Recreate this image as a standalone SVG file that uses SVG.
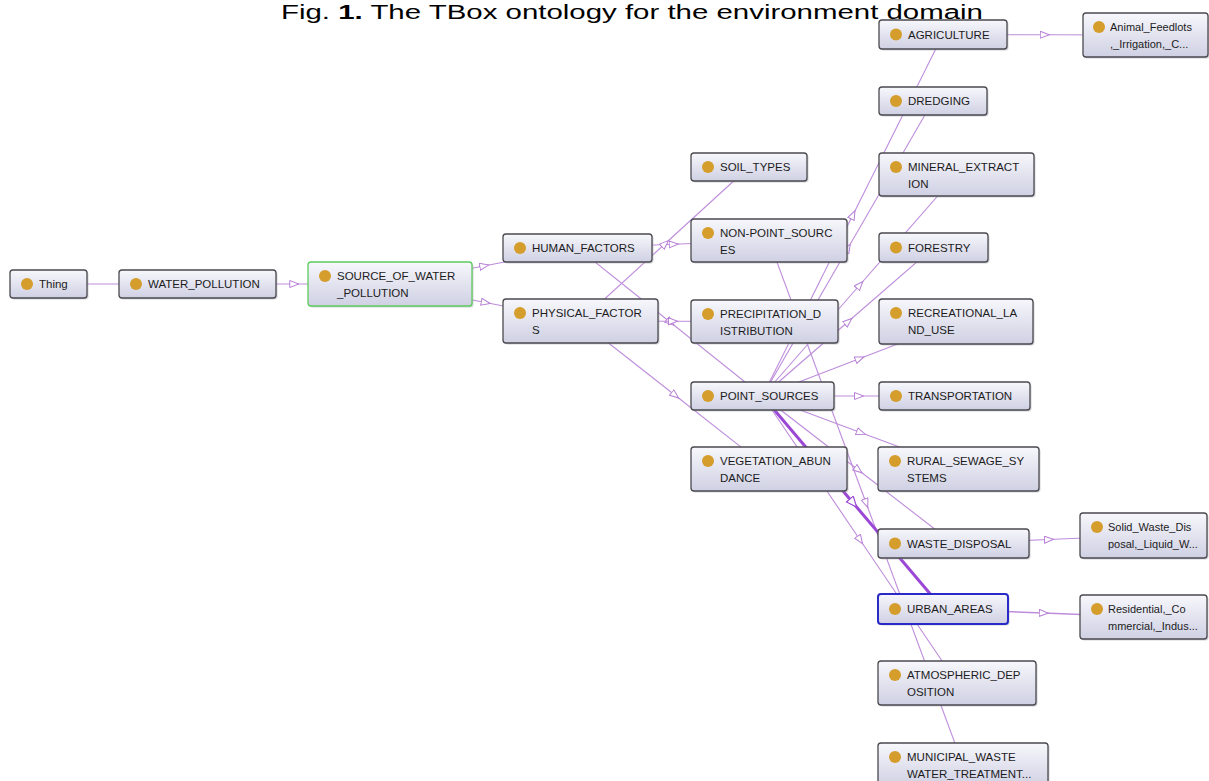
<svg xmlns="http://www.w3.org/2000/svg" width="1209" height="781" viewBox="0 0 1209 781">
<defs>
<linearGradient id="g" x1="0" y1="0" x2="0" y2="1">
<stop offset="0" stop-color="#f7f7fc"/>
<stop offset="1" stop-color="#cfd0e3"/>
</linearGradient>
<marker id="tri" markerUnits="userSpaceOnUse" markerWidth="12" markerHeight="10" refX="4.5" refY="4" orient="auto">
<path d="M0.5,0.5 L9.5,4 L0.5,7.5 Z" fill="#ffffff" stroke="#b77fd6" stroke-width="1"/>
</marker>
<marker id="triB" markerUnits="userSpaceOnUse" markerWidth="14" markerHeight="12" refX="5" refY="5" orient="auto">
<path d="M0.5,0.5 L11,5 L0.5,9.5 Z" fill="#ffffff" stroke="#9c48d6" stroke-width="1.2"/>
</marker>
</defs>
<style>
.e{fill:none;stroke:#be8ddc;stroke-width:1.1;marker-mid:url(#tri)}
.eb{fill:none;stroke:#9c48d6;stroke-width:3;marker-mid:url(#triB)}
.sh{fill:#9a9aa8;opacity:0.45}
.box{fill:url(#g);stroke:#4a4a4f;stroke-width:1.3}
.dot{fill:#d49d2c}
.t{font-family:"Liberation Sans",Arial,sans-serif;font-size:11.5px;fill:#1c1c1c}
.ts{font-family:"Liberation Sans",Arial,sans-serif;font-size:11px;fill:#1c1c1c}
</style>
<rect width="1209" height="781" fill="#ffffff"/>
<text x="281" y="19" font-family="'Liberation Sans',Arial,sans-serif" font-size="20" fill="#000" textLength="702" lengthAdjust="spacingAndGlyphs">Fig. <tspan font-weight="bold">1.</tspan> The TBox ontology for the environment domain</text>
<g id="connectors">
<polyline class="e" points="48.5,284 123,284 197.5,284"/>
<polyline class="e" points="197.5,284 293.75,284 390,284"/>
<polyline class="e" points="390,284 483.75,266 577.5,248"/>
<polyline class="e" points="390,284 485.25,302.5 580.5,321"/>
<polyline class="e" points="577.5,248 673.25,244.25 769,240.5"/>
<polyline class="e" points="577.5,248 670,322 762.5,396"/>
<polyline class="e" points="580.5,321 664.75,244 749,167"/>
<polyline class="e" points="580.5,321 672.5,321.25 764.5,321.5"/>
<polyline class="e" points="580.5,321 674.75,395 769,469"/>
<polyline class="e" points="762.5,396 852.75,215.25 943,34.5"/>
<polyline class="e" points="762.5,396 847.75,248.5 933,101"/>
<polyline class="e" points="762.5,396 859.5,285.25 956.5,174.5"/>
<polyline class="e" points="762.5,396 848,321.75 933.5,247.5"/>
<polyline class="e" points="762.5,396 859.25,358.75 956,321.5"/>
<polyline class="e" points="762.5,396 858.5,396 954.5,396"/>
<polyline class="e" points="762.5,396 860.5,432.5 958.5,469"/>
<polyline class="e" points="762.5,396 858,469.75 953.5,543.5"/>
<polyline class="e" points="762.5,396 859.75,539.5 957,683"/>
<polyline class="e" points="769,240.5 866,502.75 963,765"/>
<polyline class="eb" points="762.5,396 852.75,502.5 943,609"/>
<polyline class="e" points="943,34.5 1044.25,34.75 1145.5,35"/>
<polyline class="e" points="953.5,543.5 1048.5,539.5 1143.5,535.5"/>
<polyline class="e" points="943,609 1043.25,613 1143.5,617" style="stroke-width:1.5"/>
</g>
<g id="n-thing"><rect class="sh" x="11.5" y="271.5" width="77" height="28" rx="3"/><rect class="box" x="10" y="270" width="77" height="28" rx="3"/><circle class="dot" cx="27" cy="284" r="6"/><text class="t" x="39" y="288">Thing</text></g>
<g id="n-water-pollution"><rect class="sh" x="120.5" y="271.5" width="157" height="28" rx="3"/><rect class="box" x="119" y="270" width="157" height="28" rx="3"/><circle class="dot" cx="136" cy="284" r="6"/><text class="t" x="148" y="288">WATER_POLLUTION</text></g>
<g id="n-source"><rect class="sh" x="309.5" y="263.5" width="164" height="44" rx="3"/><rect class="box" x="308" y="262" width="164" height="44" rx="3" style="stroke:#5ccc5c"/><circle class="dot" cx="325" cy="276" r="6"/><text class="t" x="337" y="280">SOURCE_OF_WATER</text><text class="t" x="337" y="297">_POLLUTION</text></g>
<g id="n-human"><rect class="sh" x="504.5" y="235.5" width="149" height="28" rx="3"/><rect class="box" x="503" y="234" width="149" height="28" rx="3"/><circle class="dot" cx="520" cy="248" r="6"/><text class="t" x="532" y="252">HUMAN_FACTORS</text></g>
<g id="n-physical"><rect class="sh" x="504.5" y="300.5" width="155" height="44" rx="3"/><rect class="box" x="503" y="299" width="155" height="44" rx="3"/><circle class="dot" cx="520" cy="313" r="6"/><text class="t" x="532" y="317">PHYSICAL_FACTOR</text><text class="t" x="532" y="334">S</text></g>
<g id="n-soil"><rect class="sh" x="692.5" y="154.5" width="116" height="28" rx="3"/><rect class="box" x="691" y="153" width="116" height="28" rx="3"/><circle class="dot" cx="708" cy="167" r="6"/><text class="t" x="720" y="171">SOIL_TYPES</text></g>
<g id="n-nonpoint"><rect class="sh" x="692.5" y="220.5" width="156" height="43" rx="3"/><rect class="box" x="691" y="219" width="156" height="43" rx="3"/><circle class="dot" cx="708" cy="233" r="6"/><text class="t" x="720" y="237">NON-POINT_SOURC</text><text class="t" x="720" y="254">ES</text></g>
<g id="n-precip"><rect class="sh" x="692.5" y="301.5" width="147" height="43" rx="3"/><rect class="box" x="691" y="300" width="147" height="43" rx="3"/><circle class="dot" cx="708" cy="314" r="6"/><text class="t" x="720" y="318">PRECIPITATION_D</text><text class="t" x="720" y="335">ISTRIBUTION</text></g>
<g id="n-point"><rect class="sh" x="692.5" y="383.5" width="143" height="28" rx="3"/><rect class="box" x="691" y="382" width="143" height="28" rx="3"/><circle class="dot" cx="708" cy="396" r="6"/><text class="t" x="720" y="400">POINT_SOURCES</text></g>
<g id="n-veg"><rect class="sh" x="692.5" y="448.5" width="156" height="44" rx="3"/><rect class="box" x="691" y="447" width="156" height="44" rx="3"/><circle class="dot" cx="708" cy="461" r="6"/><text class="t" x="720" y="465">VEGETATION_ABUN</text><text class="t" x="720" y="482">DANCE</text></g>
<g id="n-agri"><rect class="sh" x="880.5" y="21.5" width="128" height="29" rx="3"/><rect class="box" x="879" y="20" width="128" height="29" rx="3"/><circle class="dot" cx="896" cy="34.5" r="6"/><text class="t" x="908" y="38.5">AGRICULTURE</text></g>
<g id="n-animal"><rect class="sh" x="1084.5" y="14.5" width="125" height="44" rx="3"/><rect class="box" x="1083" y="13" width="125" height="44" rx="3"/><circle class="dot" cx="1099" cy="27" r="6"/><text class="ts" x="1110" y="31">Animal_Feedlots</text><text class="ts" x="1110" y="48">,_Irrigation,_C...</text></g>
<g id="n-dredging"><rect class="sh" x="880.5" y="88.5" width="108" height="28" rx="3"/><rect class="box" x="879" y="87" width="108" height="28" rx="3"/><circle class="dot" cx="896" cy="101" r="6"/><text class="t" x="908" y="105">DREDGING</text></g>
<g id="n-mineral"><rect class="sh" x="880.5" y="154.5" width="155" height="43" rx="3"/><rect class="box" x="879" y="153" width="155" height="43" rx="3"/><circle class="dot" cx="896" cy="167" r="6"/><text class="t" x="908" y="171">MINERAL_EXTRACT</text><text class="t" x="908" y="188">ION</text></g>
<g id="n-forestry"><rect class="sh" x="880.5" y="234.5" width="109" height="29" rx="3"/><rect class="box" x="879" y="233" width="109" height="29" rx="3"/><circle class="dot" cx="896" cy="247.5" r="6"/><text class="t" x="908" y="251.5">FORESTRY</text></g>
<g id="n-recreational"><rect class="sh" x="880.5" y="300.5" width="154" height="45" rx="3"/><rect class="box" x="879" y="299" width="154" height="45" rx="3"/><circle class="dot" cx="896" cy="313" r="6"/><text class="t" x="908" y="317">RECREATIONAL_LA</text><text class="t" x="908" y="334">ND_USE</text></g>
<g id="n-transport"><rect class="sh" x="880.5" y="383.5" width="151" height="28" rx="3"/><rect class="box" x="879" y="382" width="151" height="28" rx="3"/><circle class="dot" cx="896" cy="396" r="6"/><text class="t" x="908" y="400">TRANSPORTATION</text></g>
<g id="n-rural"><rect class="sh" x="879.5" y="448.5" width="161" height="44" rx="3"/><rect class="box" x="878" y="447" width="161" height="44" rx="3"/><circle class="dot" cx="895" cy="461" r="6"/><text class="t" x="907" y="465">RURAL_SEWAGE_SY</text><text class="t" x="907" y="482">STEMS</text></g>
<g id="n-waste"><rect class="sh" x="879.5" y="530.5" width="151" height="29" rx="3"/><rect class="box" x="878" y="529" width="151" height="29" rx="3"/><circle class="dot" cx="895" cy="543.5" r="6"/><text class="t" x="907" y="547.5">WASTE_DISPOSAL</text></g>
<g id="n-solid"><rect class="sh" x="1081.5" y="514.5" width="127" height="45" rx="3"/><rect class="box" x="1080" y="513" width="127" height="45" rx="3"/><circle class="dot" cx="1097" cy="527" r="6"/><text class="ts" x="1108" y="531">Solid_Waste_Dis</text><text class="ts" x="1108" y="548">posal,_Liquid_W...</text></g>
<g id="n-urban"><rect class="sh" x="879.5" y="595.5" width="130" height="30" rx="3"/><rect class="box" x="878" y="594" width="130" height="30" rx="3" style="stroke:#2a2ac8;stroke-width:2"/><circle class="dot" cx="895" cy="609" r="6"/><text class="t" x="907" y="613">URBAN_AREAS</text></g>
<g id="n-residential"><rect class="sh" x="1081.5" y="596.5" width="127" height="44" rx="3"/><rect class="box" x="1080" y="595" width="127" height="44" rx="3"/><circle class="dot" cx="1097" cy="609" r="6"/><text class="ts" x="1108" y="613">Residential,_Co</text><text class="ts" x="1108" y="630">mmercial,_Indus...</text></g>
<g id="n-atmos"><rect class="sh" x="879.5" y="662.5" width="158" height="44" rx="3"/><rect class="box" x="878" y="661" width="158" height="44" rx="3"/><circle class="dot" cx="895" cy="675" r="6"/><text class="t" x="907" y="679">ATMOSPHERIC_DEP</text><text class="t" x="907" y="696">OSITION</text></g>
<g id="n-municipal"><rect class="sh" x="879.5" y="744.5" width="170" height="44" rx="3"/><rect class="box" x="878" y="743" width="170" height="44" rx="3"/><circle class="dot" cx="895" cy="757" r="6"/><text class="t" x="907" y="761">MUNICIPAL_WASTE</text><text class="t" x="907" y="778">WATER_TREATMENT...</text></g>
</svg>
